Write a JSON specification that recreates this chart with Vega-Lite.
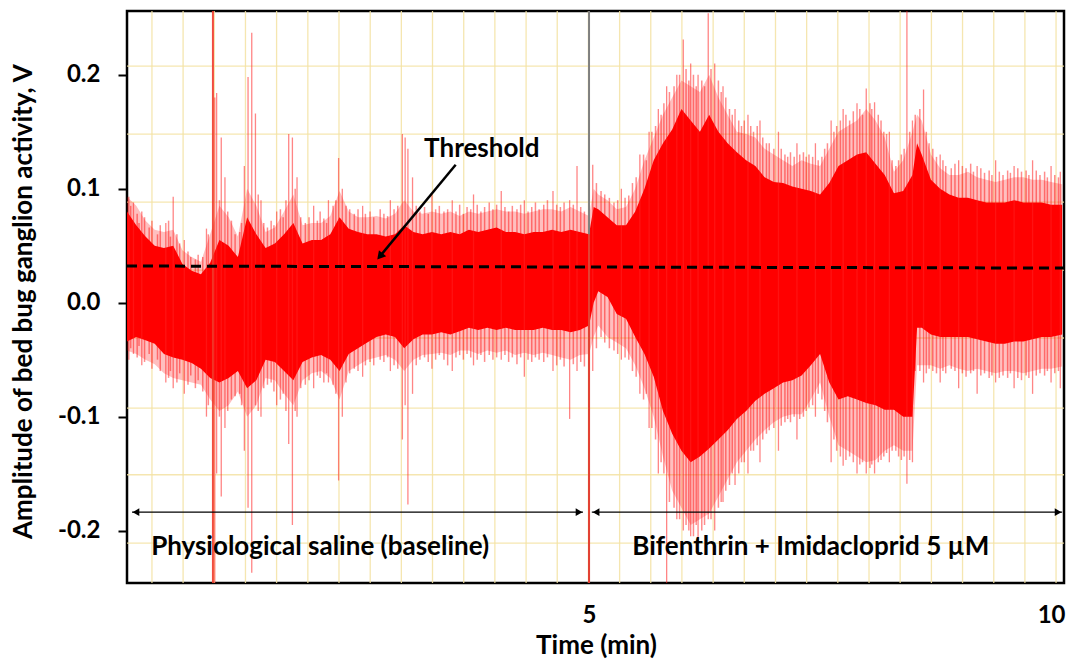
{
  "$schema": "https://vega.github.io/schema/vega-lite/v6.json",
  "width": 937,
  "height": 572,
  "autosize": {"type": "none"},
  "padding": {"left": 127, "top": 11, "right": 3, "bottom": 76},
  "background": "#ffffff",
  "config": {
    "view": {"stroke": "#000000", "strokeWidth": 2.5},
    "font": "Lato"
  },
  "datasets": {
    "gridv": [
      {"g": 0.27}, {"g": 0.607}, {"g": 0.945}, {"g": 1.282}, {"g": 1.619}, {"g": 1.957}, {"g": 2.294}, {"g": 2.632},
      {"g": 2.969}, {"g": 3.306}, {"g": 3.644}, {"g": 3.981}, {"g": 4.319}, {"g": 4.656}, {"g": 4.993}, {"g": 5.331},
      {"g": 5.668}, {"g": 6.005}, {"g": 6.343}, {"g": 6.68}, {"g": 7.018}, {"g": 7.355}, {"g": 7.692}, {"g": 8.03},
      {"g": 8.367}, {"g": 8.705}, {"g": 9.042}, {"g": 9.38}, {"g": 9.717}, {"g": 10.054}
    ],
    "gridh": [
      {"g": 0.2077}, {"g": 0.148}, {"g": 0.0883}, {"g": 0.0286}, {"g": -0.031}, {"g": -0.0925}, {"g": -0.151}, {"g": -0.211}
    ],
    "signal": [
      {"t": 0.00, "hi": 0.080, "lo": -0.034, "hi2": 0.093, "lo2": -0.042},
      {"t": 0.10, "hi": 0.068, "lo": -0.030, "hi2": 0.085, "lo2": -0.045},
      {"t": 0.20, "hi": 0.058, "lo": -0.033, "hi2": 0.072, "lo2": -0.050},
      {"t": 0.30, "hi": 0.050, "lo": -0.036, "hi2": 0.064, "lo2": -0.054},
      {"t": 0.40, "hi": 0.048, "lo": -0.045, "hi2": 0.062, "lo2": -0.062},
      {"t": 0.50, "hi": 0.050, "lo": -0.048, "hi2": 0.064, "lo2": -0.066},
      {"t": 0.60, "hi": 0.034, "lo": -0.050, "hi2": 0.046, "lo2": -0.068},
      {"t": 0.70, "hi": 0.028, "lo": -0.053, "hi2": 0.040, "lo2": -0.070},
      {"t": 0.80, "hi": 0.025, "lo": -0.058, "hi2": 0.036, "lo2": -0.072},
      {"t": 0.90, "hi": 0.035, "lo": -0.066, "hi2": 0.060, "lo2": -0.085},
      {"t": 1.00, "hi": 0.055, "lo": -0.070, "hi2": 0.085, "lo2": -0.095},
      {"t": 1.10, "hi": 0.050, "lo": -0.066, "hi2": 0.075, "lo2": -0.090},
      {"t": 1.20, "hi": 0.040, "lo": -0.060, "hi2": 0.058, "lo2": -0.078},
      {"t": 1.30, "hi": 0.075, "lo": -0.075, "hi2": 0.100, "lo2": -0.100},
      {"t": 1.40, "hi": 0.060, "lo": -0.068, "hi2": 0.085, "lo2": -0.090},
      {"t": 1.50, "hi": 0.048, "lo": -0.050, "hi2": 0.062, "lo2": -0.066},
      {"t": 1.60, "hi": 0.052, "lo": -0.052, "hi2": 0.066, "lo2": -0.068},
      {"t": 1.70, "hi": 0.060, "lo": -0.060, "hi2": 0.080, "lo2": -0.080},
      {"t": 1.80, "hi": 0.070, "lo": -0.068, "hi2": 0.095, "lo2": -0.090},
      {"t": 1.90, "hi": 0.052, "lo": -0.052, "hi2": 0.068, "lo2": -0.068},
      {"t": 2.00, "hi": 0.055, "lo": -0.048, "hi2": 0.070, "lo2": -0.062},
      {"t": 2.10, "hi": 0.055, "lo": -0.046, "hi2": 0.070, "lo2": -0.060},
      {"t": 2.20, "hi": 0.060, "lo": -0.050, "hi2": 0.076, "lo2": -0.066},
      {"t": 2.30, "hi": 0.075, "lo": -0.060, "hi2": 0.098, "lo2": -0.085},
      {"t": 2.40, "hi": 0.065, "lo": -0.045, "hi2": 0.080, "lo2": -0.060},
      {"t": 2.50, "hi": 0.062, "lo": -0.040, "hi2": 0.075, "lo2": -0.055},
      {"t": 2.60, "hi": 0.060, "lo": -0.035, "hi2": 0.075, "lo2": -0.050},
      {"t": 2.70, "hi": 0.060, "lo": -0.030, "hi2": 0.076, "lo2": -0.048},
      {"t": 2.80, "hi": 0.058, "lo": -0.028, "hi2": 0.074, "lo2": -0.046},
      {"t": 2.90, "hi": 0.060, "lo": -0.030, "hi2": 0.078, "lo2": -0.050},
      {"t": 3.00, "hi": 0.068, "lo": -0.040, "hi2": 0.090, "lo2": -0.060},
      {"t": 3.10, "hi": 0.062, "lo": -0.032, "hi2": 0.080, "lo2": -0.050},
      {"t": 3.20, "hi": 0.060, "lo": -0.028, "hi2": 0.078, "lo2": -0.046},
      {"t": 3.30, "hi": 0.062, "lo": -0.028, "hi2": 0.080, "lo2": -0.045},
      {"t": 3.40, "hi": 0.060, "lo": -0.026, "hi2": 0.078, "lo2": -0.044},
      {"t": 3.50, "hi": 0.062, "lo": -0.028, "hi2": 0.080, "lo2": -0.046},
      {"t": 3.60, "hi": 0.060, "lo": -0.025, "hi2": 0.076, "lo2": -0.042},
      {"t": 3.70, "hi": 0.064, "lo": -0.022, "hi2": 0.080, "lo2": -0.042},
      {"t": 3.80, "hi": 0.062, "lo": -0.024, "hi2": 0.078, "lo2": -0.045},
      {"t": 3.90, "hi": 0.064, "lo": -0.022, "hi2": 0.080, "lo2": -0.042},
      {"t": 4.00, "hi": 0.066, "lo": -0.024, "hi2": 0.082, "lo2": -0.044},
      {"t": 4.10, "hi": 0.062, "lo": -0.022, "hi2": 0.080, "lo2": -0.042},
      {"t": 4.20, "hi": 0.062, "lo": -0.024, "hi2": 0.080, "lo2": -0.046},
      {"t": 4.30, "hi": 0.060, "lo": -0.024, "hi2": 0.078, "lo2": -0.044},
      {"t": 4.40, "hi": 0.062, "lo": -0.024, "hi2": 0.080, "lo2": -0.046},
      {"t": 4.50, "hi": 0.062, "lo": -0.022, "hi2": 0.082, "lo2": -0.044},
      {"t": 4.60, "hi": 0.064, "lo": -0.024, "hi2": 0.082, "lo2": -0.046},
      {"t": 4.70, "hi": 0.062, "lo": -0.024, "hi2": 0.080, "lo2": -0.048},
      {"t": 4.80, "hi": 0.064, "lo": -0.026, "hi2": 0.084, "lo2": -0.050},
      {"t": 4.90, "hi": 0.062, "lo": -0.024, "hi2": 0.080, "lo2": -0.046},
      {"t": 5.00, "hi": 0.060, "lo": -0.020, "hi2": 0.076, "lo2": -0.045},
      {"t": 5.05, "hi": 0.084, "lo": 0.000, "hi2": 0.100, "lo2": -0.030},
      {"t": 5.10, "hi": 0.082, "lo": 0.010, "hi2": 0.095, "lo2": -0.020},
      {"t": 5.20, "hi": 0.075, "lo": 0.005, "hi2": 0.090, "lo2": -0.030},
      {"t": 5.30, "hi": 0.068, "lo": -0.010, "hi2": 0.082, "lo2": -0.035},
      {"t": 5.40, "hi": 0.068, "lo": -0.014, "hi2": 0.084, "lo2": -0.040},
      {"t": 5.50, "hi": 0.080, "lo": -0.030, "hi2": 0.100, "lo2": -0.055},
      {"t": 5.60, "hi": 0.100, "lo": -0.045, "hi2": 0.125, "lo2": -0.075},
      {"t": 5.70, "hi": 0.125, "lo": -0.065, "hi2": 0.145, "lo2": -0.100},
      {"t": 5.80, "hi": 0.140, "lo": -0.095, "hi2": 0.165, "lo2": -0.135},
      {"t": 5.90, "hi": 0.152, "lo": -0.115, "hi2": 0.180, "lo2": -0.165},
      {"t": 6.00, "hi": 0.170, "lo": -0.130, "hi2": 0.195, "lo2": -0.180},
      {"t": 6.10, "hi": 0.160, "lo": -0.140, "hi2": 0.190, "lo2": -0.195},
      {"t": 6.20, "hi": 0.150, "lo": -0.135, "hi2": 0.185, "lo2": -0.190},
      {"t": 6.30, "hi": 0.165, "lo": -0.128, "hi2": 0.200, "lo2": -0.185},
      {"t": 6.40, "hi": 0.150, "lo": -0.120, "hi2": 0.180, "lo2": -0.170},
      {"t": 6.50, "hi": 0.140, "lo": -0.112, "hi2": 0.165, "lo2": -0.155},
      {"t": 6.60, "hi": 0.132, "lo": -0.102, "hi2": 0.150, "lo2": -0.140},
      {"t": 6.70, "hi": 0.125, "lo": -0.095, "hi2": 0.148, "lo2": -0.130},
      {"t": 6.80, "hi": 0.120, "lo": -0.086, "hi2": 0.145, "lo2": -0.120},
      {"t": 6.90, "hi": 0.110, "lo": -0.080, "hi2": 0.135, "lo2": -0.112},
      {"t": 7.00, "hi": 0.106, "lo": -0.075, "hi2": 0.130, "lo2": -0.105},
      {"t": 7.10, "hi": 0.105, "lo": -0.070, "hi2": 0.125, "lo2": -0.100},
      {"t": 7.20, "hi": 0.102, "lo": -0.068, "hi2": 0.120, "lo2": -0.098},
      {"t": 7.30, "hi": 0.100, "lo": -0.064, "hi2": 0.125, "lo2": -0.098},
      {"t": 7.40, "hi": 0.098, "lo": -0.055, "hi2": 0.122, "lo2": -0.085},
      {"t": 7.50, "hi": 0.095, "lo": -0.045, "hi2": 0.120, "lo2": -0.070},
      {"t": 7.60, "hi": 0.105, "lo": -0.070, "hi2": 0.135, "lo2": -0.100},
      {"t": 7.70, "hi": 0.120, "lo": -0.085, "hi2": 0.150, "lo2": -0.125},
      {"t": 7.80, "hi": 0.125, "lo": -0.082, "hi2": 0.155, "lo2": -0.130},
      {"t": 7.90, "hi": 0.130, "lo": -0.085, "hi2": 0.160, "lo2": -0.135},
      {"t": 8.00, "hi": 0.132, "lo": -0.088, "hi2": 0.170, "lo2": -0.140},
      {"t": 8.10, "hi": 0.122, "lo": -0.090, "hi2": 0.160, "lo2": -0.138},
      {"t": 8.20, "hi": 0.112, "lo": -0.094, "hi2": 0.145, "lo2": -0.130},
      {"t": 8.30, "hi": 0.096, "lo": -0.094, "hi2": 0.115, "lo2": -0.125},
      {"t": 8.40, "hi": 0.098, "lo": -0.100, "hi2": 0.125, "lo2": -0.130},
      {"t": 8.50, "hi": 0.112, "lo": -0.100, "hi2": 0.150, "lo2": -0.130},
      {"t": 8.55, "hi": 0.140, "lo": -0.022, "hi2": 0.165, "lo2": -0.055},
      {"t": 8.60, "hi": 0.130, "lo": -0.022, "hi2": 0.160, "lo2": -0.055},
      {"t": 8.70, "hi": 0.108, "lo": -0.028, "hi2": 0.130, "lo2": -0.055},
      {"t": 8.80, "hi": 0.100, "lo": -0.030, "hi2": 0.118, "lo2": -0.058},
      {"t": 8.90, "hi": 0.095, "lo": -0.030, "hi2": 0.112, "lo2": -0.055},
      {"t": 9.00, "hi": 0.092, "lo": -0.030, "hi2": 0.112, "lo2": -0.058},
      {"t": 9.10, "hi": 0.092, "lo": -0.030, "hi2": 0.115, "lo2": -0.060},
      {"t": 9.20, "hi": 0.090, "lo": -0.032, "hi2": 0.110, "lo2": -0.058},
      {"t": 9.30, "hi": 0.088, "lo": -0.034, "hi2": 0.108, "lo2": -0.060},
      {"t": 9.40, "hi": 0.088, "lo": -0.036, "hi2": 0.106, "lo2": -0.062},
      {"t": 9.50, "hi": 0.088, "lo": -0.036, "hi2": 0.108, "lo2": -0.060},
      {"t": 9.60, "hi": 0.090, "lo": -0.034, "hi2": 0.110, "lo2": -0.060},
      {"t": 9.70, "hi": 0.088, "lo": -0.034, "hi2": 0.110, "lo2": -0.062},
      {"t": 9.80, "hi": 0.088, "lo": -0.032, "hi2": 0.108, "lo2": -0.060},
      {"t": 9.90, "hi": 0.088, "lo": -0.030, "hi2": 0.108, "lo2": -0.058},
      {"t": 10.00, "hi": 0.086, "lo": -0.030, "hi2": 0.106, "lo2": -0.058},
      {"t": 10.12, "hi": 0.086, "lo": -0.028, "hi2": 0.104, "lo2": -0.056}
    ],
    "fuzz": [
      {"t": 0.04, "top": 0.085, "bot": -0.040}, {"t": 0.11, "top": 0.078, "bot": -0.048}, {"t": 0.13, "top": 0.070, "bot": -0.038},
      {"t": 0.19, "top": 0.075, "bot": -0.052}, {"t": 0.24, "top": 0.066, "bot": -0.045}, {"t": 0.27, "top": 0.072, "bot": -0.058},
      {"t": 0.33, "top": 0.060, "bot": -0.050}, {"t": 0.36, "top": 0.068, "bot": -0.060}, {"t": 0.45, "top": 0.072, "bot": -0.066},
      {"t": 0.47, "top": 0.058, "bot": -0.060}, {"t": 0.54, "top": 0.060, "bot": -0.070}, {"t": 0.57, "top": 0.052, "bot": -0.062},
      {"t": 0.66, "top": 0.045, "bot": -0.072}, {"t": 0.69, "top": 0.040, "bot": -0.064}, {"t": 0.74, "top": 0.038, "bot": -0.075},
      {"t": 0.77, "top": 0.042, "bot": -0.068}, {"t": 0.82, "top": 0.040, "bot": -0.078}, {"t": 0.88, "top": 0.060, "bot": -0.090},
      {"t": 1.00, "top": 0.090, "bot": -0.100}, {"t": 1.09, "top": 0.080, "bot": -0.095}, {"t": 1.13, "top": 0.072, "bot": -0.085},
      {"t": 1.17, "top": 0.060, "bot": -0.082}, {"t": 1.22, "top": 0.062, "bot": -0.080}, {"t": 1.24, "top": 0.070, "bot": -0.090},
      {"t": 1.42, "top": 0.095, "bot": -0.095}, {"t": 1.48, "top": 0.070, "bot": -0.075}, {"t": 1.52, "top": 0.066, "bot": -0.072},
      {"t": 1.56, "top": 0.072, "bot": -0.070}, {"t": 1.59, "top": 0.068, "bot": -0.078}, {"t": 1.66, "top": 0.082, "bot": -0.085},
      {"t": 1.69, "top": 0.075, "bot": -0.080}, {"t": 1.72, "top": 0.090, "bot": -0.095}, {"t": 1.82, "top": 0.100, "bot": -0.095},
      {"t": 1.88, "top": 0.075, "bot": -0.075}, {"t": 1.93, "top": 0.070, "bot": -0.072}, {"t": 1.97, "top": 0.075, "bot": -0.068},
      {"t": 2.06, "top": 0.072, "bot": -0.064}, {"t": 2.09, "top": 0.080, "bot": -0.066}, {"t": 2.13, "top": 0.074, "bot": -0.070},
      {"t": 2.16, "top": 0.070, "bot": -0.062}, {"t": 2.23, "top": 0.085, "bot": -0.072}, {"t": 2.26, "top": 0.090, "bot": -0.080},
      {"t": 2.37, "top": 0.085, "bot": -0.070}, {"t": 2.41, "top": 0.082, "bot": -0.062}, {"t": 2.46, "top": 0.078, "bot": -0.058},
      {"t": 2.50, "top": 0.082, "bot": -0.060}, {"t": 2.58, "top": 0.078, "bot": -0.055}, {"t": 2.63, "top": 0.080, "bot": -0.052},
      {"t": 2.67, "top": 0.075, "bot": -0.055}, {"t": 2.74, "top": 0.082, "bot": -0.050}, {"t": 2.78, "top": 0.078, "bot": -0.052},
      {"t": 2.82, "top": 0.076, "bot": -0.048}, {"t": 2.89, "top": 0.082, "bot": -0.055}, {"t": 2.93, "top": 0.085, "bot": -0.058},
      {"t": 3.13, "top": 0.085, "bot": -0.055}, {"t": 3.17, "top": 0.080, "bot": -0.050}, {"t": 3.22, "top": 0.084, "bot": -0.048},
      {"t": 3.26, "top": 0.078, "bot": -0.052}, {"t": 3.34, "top": 0.082, "bot": -0.050}, {"t": 3.38, "top": 0.085, "bot": -0.046},
      {"t": 3.43, "top": 0.080, "bot": -0.050}, {"t": 3.47, "top": 0.082, "bot": -0.055}, {"t": 3.56, "top": 0.080, "bot": -0.048},
      {"t": 3.60, "top": 0.086, "bot": -0.046}, {"t": 3.64, "top": 0.078, "bot": -0.050}, {"t": 3.68, "top": 0.084, "bot": -0.045},
      {"t": 3.72, "top": 0.082, "bot": -0.048}, {"t": 3.79, "top": 0.086, "bot": -0.050}, {"t": 3.83, "top": 0.080, "bot": -0.046},
      {"t": 3.87, "top": 0.084, "bot": -0.052}, {"t": 3.92, "top": 0.088, "bot": -0.046}, {"t": 3.96, "top": 0.082, "bot": -0.050},
      {"t": 4.00, "top": 0.086, "bot": -0.048}, {"t": 4.09, "top": 0.084, "bot": -0.046}, {"t": 4.13, "top": 0.080, "bot": -0.052},
      {"t": 4.17, "top": 0.085, "bot": -0.048}, {"t": 4.22, "top": 0.082, "bot": -0.054}, {"t": 4.26, "top": 0.086, "bot": -0.048},
      {"t": 4.34, "top": 0.080, "bot": -0.050}, {"t": 4.38, "top": 0.084, "bot": -0.052}, {"t": 4.42, "top": 0.088, "bot": -0.048},
      {"t": 4.46, "top": 0.082, "bot": -0.050}, {"t": 4.51, "top": 0.086, "bot": -0.052}, {"t": 4.55, "top": 0.090, "bot": -0.048},
      {"t": 4.65, "top": 0.086, "bot": -0.055}, {"t": 4.69, "top": 0.084, "bot": -0.050}, {"t": 4.73, "top": 0.088, "bot": -0.056},
      {"t": 4.83, "top": 0.086, "bot": -0.054}, {"t": 4.91, "top": 0.084, "bot": -0.052}, {"t": 4.95, "top": 0.080, "bot": -0.056},
      {"t": 5.08, "top": 0.105, "bot": -0.040}, {"t": 5.13, "top": 0.098, "bot": -0.030}, {"t": 5.17, "top": 0.095, "bot": -0.035},
      {"t": 5.22, "top": 0.092, "bot": -0.040}, {"t": 5.27, "top": 0.088, "bot": -0.042}, {"t": 5.31, "top": 0.090, "bot": -0.045},
      {"t": 5.39, "top": 0.092, "bot": -0.048}, {"t": 5.43, "top": 0.094, "bot": -0.050}, {"t": 5.47, "top": 0.105, "bot": -0.060},
      {"t": 5.51, "top": 0.110, "bot": -0.065}, {"t": 5.59, "top": 0.130, "bot": -0.085}, {"t": 5.62, "top": 0.125, "bot": -0.080},
      {"t": 5.68, "top": 0.150, "bot": -0.110}, {"t": 5.72, "top": 0.155, "bot": -0.120}, {"t": 5.78, "top": 0.165, "bot": -0.140},
      {"t": 5.81, "top": 0.175, "bot": -0.150}, {"t": 5.87, "top": 0.185, "bot": -0.175}, {"t": 5.92, "top": 0.190, "bot": -0.180},
      {"t": 5.98, "top": 0.200, "bot": -0.190}, {"t": 6.05, "top": 0.205, "bot": -0.195}, {"t": 6.08, "top": 0.195, "bot": -0.200},
      {"t": 6.13, "top": 0.200, "bot": -0.205}, {"t": 6.16, "top": 0.190, "bot": -0.195}, {"t": 6.22, "top": 0.195, "bot": -0.200},
      {"t": 6.25, "top": 0.190, "bot": -0.195}, {"t": 6.32, "top": 0.205, "bot": -0.190}, {"t": 6.40, "top": 0.195, "bot": -0.180},
      {"t": 6.43, "top": 0.185, "bot": -0.175}, {"t": 6.48, "top": 0.180, "bot": -0.165}, {"t": 6.52, "top": 0.170, "bot": -0.160},
      {"t": 6.55, "top": 0.165, "bot": -0.150}, {"t": 6.62, "top": 0.160, "bot": -0.150}, {"t": 6.65, "top": 0.155, "bot": -0.140},
      {"t": 6.68, "top": 0.160, "bot": -0.140}, {"t": 6.75, "top": 0.155, "bot": -0.130}, {"t": 6.78, "top": 0.150, "bot": -0.130},
      {"t": 6.82, "top": 0.155, "bot": -0.125}, {"t": 6.88, "top": 0.145, "bot": -0.120}, {"t": 6.92, "top": 0.140, "bot": -0.115},
      {"t": 6.95, "top": 0.140, "bot": -0.112}, {"t": 7.00, "top": 0.135, "bot": -0.110}, {"t": 7.08, "top": 0.135, "bot": -0.108},
      {"t": 7.12, "top": 0.130, "bot": -0.105}, {"t": 7.15, "top": 0.128, "bot": -0.102}, {"t": 7.18, "top": 0.132, "bot": -0.105},
      {"t": 7.22, "top": 0.128, "bot": -0.100}, {"t": 7.28, "top": 0.130, "bot": -0.102}, {"t": 7.32, "top": 0.132, "bot": -0.100},
      {"t": 7.35, "top": 0.128, "bot": -0.095}, {"t": 7.38, "top": 0.130, "bot": -0.092}, {"t": 7.42, "top": 0.128, "bot": -0.090},
      {"t": 7.48, "top": 0.125, "bot": -0.080}, {"t": 7.52, "top": 0.128, "bot": -0.085}, {"t": 7.55, "top": 0.135, "bot": -0.095},
      {"t": 7.58, "top": 0.140, "bot": -0.105}, {"t": 7.65, "top": 0.150, "bot": -0.120}, {"t": 7.68, "top": 0.155, "bot": -0.130},
      {"t": 7.72, "top": 0.160, "bot": -0.135}, {"t": 7.78, "top": 0.165, "bot": -0.138}, {"t": 7.82, "top": 0.160, "bot": -0.135},
      {"t": 7.86, "top": 0.168, "bot": -0.140}, {"t": 7.93, "top": 0.170, "bot": -0.142}, {"t": 7.96, "top": 0.165, "bot": -0.140},
      {"t": 8.04, "top": 0.175, "bot": -0.145}, {"t": 8.06, "top": 0.170, "bot": -0.142}, {"t": 8.13, "top": 0.165, "bot": -0.140},
      {"t": 8.16, "top": 0.160, "bot": -0.138}, {"t": 8.19, "top": 0.150, "bot": -0.135}, {"t": 8.22, "top": 0.148, "bot": -0.132},
      {"t": 8.28, "top": 0.125, "bot": -0.130}, {"t": 8.32, "top": 0.120, "bot": -0.130}, {"t": 8.35, "top": 0.125, "bot": -0.135},
      {"t": 8.38, "top": 0.130, "bot": -0.138}, {"t": 8.41, "top": 0.135, "bot": -0.135}, {"t": 8.47, "top": 0.150, "bot": -0.138},
      {"t": 8.53, "top": 0.165, "bot": -0.060}, {"t": 8.58, "top": 0.170, "bot": -0.060}, {"t": 8.65, "top": 0.150, "bot": -0.062},
      {"t": 8.68, "top": 0.140, "bot": -0.058}, {"t": 8.72, "top": 0.135, "bot": -0.060}, {"t": 8.76, "top": 0.128, "bot": -0.062},
      {"t": 8.83, "top": 0.125, "bot": -0.060}, {"t": 8.86, "top": 0.120, "bot": -0.062}, {"t": 8.92, "top": 0.118, "bot": -0.058},
      {"t": 8.96, "top": 0.122, "bot": -0.060}, {"t": 9.04, "top": 0.120, "bot": -0.062}, {"t": 9.08, "top": 0.118, "bot": -0.065},
      {"t": 9.13, "top": 0.122, "bot": -0.062}, {"t": 9.16, "top": 0.115, "bot": -0.060}, {"t": 9.24, "top": 0.118, "bot": -0.064},
      {"t": 9.28, "top": 0.114, "bot": -0.062}, {"t": 9.33, "top": 0.116, "bot": -0.066}, {"t": 9.36, "top": 0.112, "bot": -0.064},
      {"t": 9.44, "top": 0.115, "bot": -0.066}, {"t": 9.48, "top": 0.112, "bot": -0.064}, {"t": 9.53, "top": 0.116, "bot": -0.066},
      {"t": 9.56, "top": 0.114, "bot": -0.062}, {"t": 9.64, "top": 0.118, "bot": -0.066}, {"t": 9.68, "top": 0.115, "bot": -0.068},
      {"t": 9.73, "top": 0.116, "bot": -0.064}, {"t": 9.76, "top": 0.112, "bot": -0.066}, {"t": 9.84, "top": 0.116, "bot": -0.064},
      {"t": 9.88, "top": 0.112, "bot": -0.062}, {"t": 9.93, "top": 0.115, "bot": -0.064}, {"t": 9.96, "top": 0.110, "bot": -0.060},
      {"t": 10.04, "top": 0.112, "bot": -0.062}, {"t": 10.08, "top": 0.110, "bot": -0.060}
    ],
    "spikes": [
      {"t": 0.02, "top": 0.093, "bot": -0.050}, {"t": 0.07, "top": 0.088, "bot": -0.045},
      {"t": 0.16, "top": 0.080, "bot": -0.055}, {"t": 0.42, "top": 0.070, "bot": -0.070},
      {"t": 0.50, "top": 0.093, "bot": -0.075}, {"t": 0.62, "top": 0.055, "bot": -0.080},
      {"t": 0.86, "top": 0.065, "bot": -0.100},
      {"t": 0.95, "top": 0.180, "bot": -0.246}, {"t": 0.97, "top": 0.184, "bot": -0.150},
      {"t": 1.02, "top": 0.145, "bot": -0.170}, {"t": 1.06, "top": 0.110, "bot": -0.110},
      {"t": 1.27, "top": 0.120, "bot": -0.130}, {"t": 1.31, "top": 0.198, "bot": -0.180},
      {"t": 1.35, "top": 0.237, "bot": -0.237}, {"t": 1.39, "top": 0.166, "bot": -0.090},
      {"t": 1.45, "top": 0.090, "bot": -0.100}, {"t": 1.62, "top": 0.080, "bot": -0.090},
      {"t": 1.75, "top": 0.148, "bot": -0.124}, {"t": 1.79, "top": 0.145, "bot": -0.195},
      {"t": 1.84, "top": 0.110, "bot": -0.100}, {"t": 2.02, "top": 0.085, "bot": -0.075},
      {"t": 2.18, "top": 0.090, "bot": -0.070}, {"t": 2.29, "top": 0.127, "bot": -0.156},
      {"t": 2.33, "top": 0.100, "bot": -0.100}, {"t": 2.55, "top": 0.085, "bot": -0.065},
      {"t": 2.85, "top": 0.090, "bot": -0.060}, {"t": 2.98, "top": 0.148, "bot": -0.120},
      {"t": 3.01, "top": 0.145, "bot": -0.090}, {"t": 3.04, "top": 0.135, "bot": -0.177},
      {"t": 3.09, "top": 0.110, "bot": -0.080}, {"t": 3.30, "top": 0.095, "bot": -0.058},
      {"t": 3.52, "top": 0.090, "bot": -0.060}, {"t": 3.75, "top": 0.095, "bot": -0.055},
      {"t": 4.05, "top": 0.098, "bot": -0.050}, {"t": 4.30, "top": 0.090, "bot": -0.065},
      {"t": 4.61, "top": 0.098, "bot": -0.060}, {"t": 4.79, "top": 0.090, "bot": -0.102},
      {"t": 4.87, "top": 0.120, "bot": -0.060},
      {"t": 5.04, "top": 0.121, "bot": -0.060}, {"t": 5.35, "top": 0.100, "bot": -0.050},
      {"t": 5.55, "top": 0.130, "bot": -0.080}, {"t": 5.65, "top": 0.150, "bot": -0.110},
      {"t": 5.75, "top": 0.170, "bot": -0.150}, {"t": 5.84, "top": 0.190, "bot": -0.246},
      {"t": 5.95, "top": 0.200, "bot": -0.190}, {"t": 6.02, "top": 0.231, "bot": -0.200},
      {"t": 6.10, "top": 0.210, "bot": -0.205}, {"t": 6.18, "top": 0.200, "bot": -0.210},
      {"t": 6.29, "top": 0.254, "bot": -0.190}, {"t": 6.36, "top": 0.210, "bot": -0.200},
      {"t": 6.45, "top": 0.190, "bot": -0.175}, {"t": 6.58, "top": 0.170, "bot": -0.160},
      {"t": 6.72, "top": 0.165, "bot": -0.150}, {"t": 6.85, "top": 0.160, "bot": -0.140},
      {"t": 7.05, "top": 0.150, "bot": -0.130}, {"t": 7.25, "top": 0.140, "bot": -0.120},
      {"t": 7.45, "top": 0.140, "bot": -0.100}, {"t": 7.62, "top": 0.160, "bot": -0.140},
      {"t": 7.75, "top": 0.170, "bot": -0.143}, {"t": 7.90, "top": 0.175, "bot": -0.150},
      {"t": 8.00, "top": 0.188, "bot": -0.150}, {"t": 8.09, "top": 0.176, "bot": -0.150},
      {"t": 8.25, "top": 0.150, "bot": -0.140}, {"t": 8.44, "top": 0.256, "bot": -0.159},
      {"t": 8.50, "top": 0.160, "bot": -0.140}, {"t": 8.62, "top": 0.187, "bot": -0.070},
      {"t": 8.80, "top": 0.130, "bot": -0.070}, {"t": 9.00, "top": 0.125, "bot": -0.075},
      {"t": 9.20, "top": 0.120, "bot": -0.080}, {"t": 9.40, "top": 0.125, "bot": -0.070},
      {"t": 9.60, "top": 0.120, "bot": -0.075}, {"t": 9.80, "top": 0.125, "bot": -0.080},
      {"t": 10.00, "top": 0.120, "bot": -0.070}, {"t": 10.10, "top": 0.115, "bot": -0.075}
    ],
    "strongSpikes": [
      {"t": 0.93, "top": 0.256, "bot": -0.246},
      {"t": 5.00, "top": 0.060, "bot": -0.246}
    ],
    "threshold": [{"t": 0, "v": 0.0322}, {"t": 10.14, "v": 0.0304}],
    "marker": [{"t": 5}],
    "spans": [
      {"t1": 0.054, "t2": 4.935, "v": -0.1838},
      {"t1": 5.03, "t2": 10.12, "v": -0.1838}
    ],
    "headsRight": [{"t": 4.892, "v": -0.1838}, {"t": 10.076, "v": -0.1838}],
    "headsLeft": [{"t": 0.097, "v": -0.1838}, {"t": 5.076, "v": -0.1838}],
    "pointer": [{"t1": 3.557, "v1": 0.121, "t2": 2.737, "v2": 0.0407}],
    "pointerHead": [{"t": 2.737, "v": 0.0407}],
    "labels": [
      {"t": 3.84, "v": 0.1278, "text": "Threshold"},
      {"t": 2.09, "v": -0.2216, "text": "Physiological saline (baseline)"},
      {"t": 7.40, "v": -0.2216, "text": "Bifenthrin + Imidacloprid 5 µM"}
    ]
  },
  "layer": [
    {
      "data": {"name": "gridv"},
      "mark": {"type": "rule", "color": "#f3e2a2", "strokeWidth": 1.3, "opacity": 0.85},
      "encoding": {
        "x": {
          "field": "g", "type": "quantitative",
          "scale": {"domain": [0, 10.14], "nice": false, "zero": false},
          "axis": {
            "title": "Time (min)", "values": [5, 10], "format": "d",
            "ticks": false, "domain": false, "grid": false, "labelFlush": false,
            "labelFont": "Lato", "labelFontWeight": "bold", "labelFontSize": 24, "labelColor": "#000000",
            "labelPadding": 20,
            "titleFont": "Lato", "titleFontWeight": "bold", "titleFontSize": 26, "titleColor": "#000000",
            "titleX": 469, "titleY": 70, "titleBaseline": "alphabetic", "titleAlign": "center"
          }
        }
      }
    },
    {
      "data": {"name": "gridh"},
      "mark": {"type": "rule", "color": "#f3e2a2", "strokeWidth": 1.3, "opacity": 0.85},
      "encoding": {
        "y": {
          "field": "g", "type": "quantitative",
          "scale": {"domain": [-0.246, 0.256], "nice": false, "zero": false},
          "axis": {
            "title": "Amplitude of bed bug ganglion activity, V",
            "values": [-0.2, -0.1, 0, 0.1, 0.2],
            "labelExpr": "replace(format(datum.value, '.1f'), '−', '-')",
            "domain": false, "grid": false,
            "tickSize": 9, "tickWidth": 2, "tickColor": "#000000",
            "labelFont": "Lato", "labelFontWeight": "bold", "labelFontSize": 24, "labelColor": "#000000",
            "labelPadding": 18,
            "titleFont": "Lato", "titleFontWeight": "bold", "titleFontSize": 26, "titleColor": "#000000",
            "titleX": -104, "titleY": 290, "titleAngle": 270, "titleBaseline": "middle", "titleAlign": "center"
          }
        }
      }
    },
    {
      "data": {"name": "signal"},
      "mark": {"type": "area", "color": "#ff0000", "opacity": 0.25},
      "encoding": {
        "x": {"field": "t", "type": "quantitative"},
        "y": {"field": "lo2", "type": "quantitative"},
        "y2": {"field": "hi2"}
      }
    },
    {
      "data": {"name": "fuzz"},
      "mark": {"type": "rule", "color": "#ff0000", "strokeWidth": 1.5, "opacity": 0.45},
      "encoding": {
        "x": {"field": "t", "type": "quantitative"},
        "y": {"field": "bot", "type": "quantitative"},
        "y2": {"field": "top"}
      }
    },
    {
      "data": {"name": "signal"},
      "mark": {"type": "area", "color": "#ff0000", "opacity": 1},
      "encoding": {
        "x": {"field": "t", "type": "quantitative"},
        "y": {"field": "lo", "type": "quantitative"},
        "y2": {"field": "hi"}
      }
    },
    {
      "data": {"name": "marker"},
      "mark": {"type": "rule", "color": "#7f7f7f", "strokeWidth": 2},
      "encoding": {"x": {"field": "t", "type": "quantitative"}}
    },
    {
      "data": {"name": "spikes"},
      "mark": {"type": "rule", "color": "#ff2020", "strokeWidth": 1.3, "opacity": 0.55},
      "encoding": {
        "x": {"field": "t", "type": "quantitative"},
        "y": {"field": "bot", "type": "quantitative"},
        "y2": {"field": "top"}
      }
    },
    {
      "data": {"name": "strongSpikes"},
      "mark": {"type": "rule", "color": "#f03a2a", "strokeWidth": 2, "opacity": 0.9},
      "encoding": {
        "x": {"field": "t", "type": "quantitative"},
        "y": {"field": "bot", "type": "quantitative"},
        "y2": {"field": "top"}
      }
    },
    {
      "data": {"name": "threshold"},
      "mark": {"type": "line", "color": "#000000", "strokeWidth": 3, "strokeDash": [10, 6]},
      "encoding": {
        "x": {"field": "t", "type": "quantitative"},
        "y": {"field": "v", "type": "quantitative"}
      }
    },
    {
      "data": {"name": "spans"},
      "mark": {"type": "rule", "color": "#000000", "strokeWidth": 1.2},
      "encoding": {
        "x": {"field": "t1", "type": "quantitative"},
        "x2": {"field": "t2"},
        "y": {"field": "v", "type": "quantitative"}
      }
    },
    {
      "data": {"name": "headsRight"},
      "mark": {"type": "point", "shape": "triangle-right", "filled": true, "color": "#000000", "size": 60, "opacity": 1},
      "encoding": {
        "x": {"field": "t", "type": "quantitative"},
        "y": {"field": "v", "type": "quantitative"}
      }
    },
    {
      "data": {"name": "headsLeft"},
      "mark": {"type": "point", "shape": "triangle-left", "filled": true, "color": "#000000", "size": 60, "opacity": 1},
      "encoding": {
        "x": {"field": "t", "type": "quantitative"},
        "y": {"field": "v", "type": "quantitative"}
      }
    },
    {
      "data": {"name": "pointer"},
      "mark": {"type": "rule", "color": "#000000", "strokeWidth": 2.5},
      "encoding": {
        "x": {"field": "t1", "type": "quantitative"},
        "y": {"field": "v1", "type": "quantitative"},
        "x2": {"field": "t2"},
        "y2": {"field": "v2"}
      }
    },
    {
      "data": {"name": "pointerHead"},
      "mark": {"type": "point", "shape": "triangle-up", "filled": true, "color": "#000000", "size": 90, "angle": 220, "opacity": 1},
      "encoding": {
        "x": {"field": "t", "type": "quantitative"},
        "y": {"field": "v", "type": "quantitative"}
      }
    },
    {
      "data": {"name": "labels"},
      "mark": {"type": "text", "font": "Lato", "fontWeight": "bold", "fontSize": 26, "color": "#000000", "align": "center", "baseline": "alphabetic"},
      "encoding": {
        "x": {"field": "t", "type": "quantitative"},
        "y": {"field": "v", "type": "quantitative"},
        "text": {"field": "text"}
      }
    }
  ]
}
